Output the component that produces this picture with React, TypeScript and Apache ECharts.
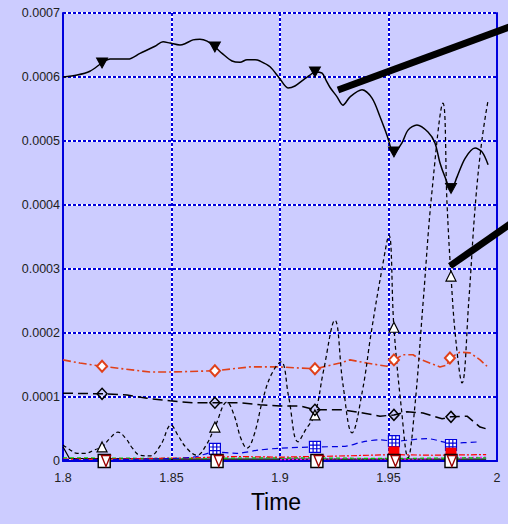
import React, { useEffect, useRef } from "react";
import * as echarts from "echarts";

// ---- data ----
const xTicks = [1.8, 1.85, 1.9, 1.95, 2];

// solid black (inverted triangles)
const tA = [1.8, 1.8065, 1.8124, 1.818, 1.8217, 1.83, 1.8355, 1.8424, 1.8461, 1.8493, 1.8539, 1.8562, 1.8599, 1.8631, 1.8664, 1.87, 1.8733, 1.8779, 1.8816, 1.8848, 1.8885, 1.8908, 1.8954, 1.9, 1.9037, 1.9069, 1.9101, 1.9138, 1.9161, 1.9194, 1.9212, 1.923, 1.9263, 1.929, 1.9323, 1.9378, 1.9424, 1.9461, 1.9493, 1.9525, 1.9562, 1.959, 1.9631, 1.9682, 1.9714, 1.9737, 1.976, 1.9788, 1.9816, 1.9853, 1.9899, 1.9931, 1.9959];
const vA = [0.0006, 0.000603, 0.000609, 0.000622, 0.000628, 0.000628, 0.000637, 0.000648, 0.000655, 0.000653, 0.00065, 0.000652, 0.000658, 0.000659, 0.000656, 0.000647, 0.000637, 0.000625, 0.000623, 0.000627, 0.000627, 0.000625, 0.000616, 0.000597, 0.000583, 0.000586, 0.000594, 0.000603, 0.000608, 0.000606, 0.000595, 0.000584, 0.000569, 0.000556, 0.000569, 0.00058, 0.000567, 0.000538, 0.000509, 0.000481, 0.000497, 0.000517, 0.000525, 0.000514, 0.000497, 0.000466, 0.000444, 0.000423, 0.000444, 0.000473, 0.000489, 0.000483, 0.000463];
const tAMark = [1.818, 1.87, 1.9161, 1.9525, 1.9788];
const vAMark = [0.000622, 0.000647, 0.000608, 0.000483, 0.000426];

// dashed black oscillation (open triangles)
const tB = [1.8, 1.803, 1.8065, 1.81, 1.815, 1.818, 1.8215, 1.8253, 1.829, 1.832, 1.8355, 1.84, 1.845, 1.8498, 1.853, 1.857, 1.8617, 1.866, 1.87, 1.8756, 1.879, 1.882, 1.8848, 1.888, 1.892, 1.896, 1.9005, 1.904, 1.9083, 1.912, 1.916, 1.92, 1.9253, 1.929, 1.9332, 1.938, 1.942, 1.947, 1.9502, 1.9525, 1.956, 1.959, 1.962, 1.966, 1.97, 1.9751, 1.977, 1.9788, 1.981, 1.9839, 1.987, 1.99, 1.993, 1.9959];
const vB = [0.000025, 0.000018, 0.000012, 0.000012, 0.000018, 0.000022, 0.000035, 0.000045, 0.000035, 0.00002, 0.000009, 0.000008, 0.000025, 0.000056, 0.00004, 0.00002, 0.000009, 0.000025, 0.000053, 0.000092, 0.00007, 0.000035, 0.00002, 0.00004, 0.000095, 0.000135, 0.000155, 0.0001, 0.00003, 0.00005, 0.000072, 0.00014, 0.00022, 0.00012, 0.000044, 0.00011, 0.0002, 0.0003, 0.000353, 0.000209, 0.00008, 0.000005, 0.00008, 0.00025, 0.00042, 0.000559, 0.0004, 0.000289, 0.00019, 0.000122, 0.00025, 0.0004, 0.0005, 0.000564];
const tBMark = [1.818, 1.87, 1.9161, 1.9525, 1.9788];
const vBMark = [0.000022, 0.000053, 0.000072, 0.000209, 0.000289];

// orange dash-dot (diamonds)
const tC = [1.8, 1.8078, 1.818, 1.8401, 1.8493, 1.87, 1.8862, 1.9, 1.9161, 1.9276, 1.9323, 1.9401, 1.9493, 1.9525, 1.9567, 1.9613, 1.9645, 1.9737, 1.977, 1.9783, 1.9829, 1.9876, 1.9922, 1.9954];
const vC = [0.000158, 0.000153, 0.000148, 0.000139, 0.000139, 0.000141, 0.000147, 0.000147, 0.000144, 0.000153, 0.000158, 0.000153, 0.000148, 0.000158, 0.000166, 0.000166, 0.000159, 0.000147, 0.00015, 0.000161, 0.00017, 0.000169, 0.000158, 0.000148];
const tCMark = [1.818, 1.87, 1.9161, 1.9525, 1.9783];
const vCMark = [0.000148, 0.000141, 0.000144, 0.000158, 0.000161];

// black long dash (diamonds)
const tD = [1.8, 1.818, 1.8295, 1.8387, 1.8493, 1.8599, 1.87, 1.8816, 1.8908, 1.9, 1.9092, 1.9161, 1.9217, 1.929, 1.9382, 1.9461, 1.9525, 1.9585, 1.9659, 1.9747, 1.9788, 1.9862, 1.9922, 1.9954];
const vD = [0.000106, 0.000105, 0.000103, 0.000098, 0.000094, 0.000091, 0.000091, 0.000091, 0.000088, 0.000086, 0.000086, 0.00008, 0.00008, 0.00008, 0.000075, 0.00007, 0.000072, 0.000077, 0.000075, 0.000066, 0.000069, 0.00007, 0.000053, 0.00005];
const tDMark = [1.818, 1.87, 1.9161, 1.9525, 1.9788];
const vDMark = [0.000105, 0.000091, 0.00008, 0.000072, 0.000069];

// blue dashed (grid squares)
const tE = [1.8, 1.84, 1.86, 1.87, 1.88, 1.89, 1.9, 1.9161, 1.93, 1.9382, 1.9461, 1.9525, 1.9677, 1.9788, 1.9922];
const vE = [0.000002, 0.000003, 0.000006, 0.000014, 0.000012, 0.000017, 0.00002, 0.000022, 0.000023, 0.00003, 0.000033, 0.000031, 0.000035, 0.000028, 0.00003];
const tEMark = [1.87, 1.9161, 1.9525, 1.9788];
const vEMark = [0.000019, 0.000022, 0.000031, 0.000025];

// red dash-dot (filled squares)
const tF = [1.8, 1.82, 1.86, 1.88, 1.9, 1.93, 1.9525, 1.97, 1.995];
const vF = [0.000003, 0.000003, 0.000005, 0.000007, 0.000006, 0.000008, 0.00001, 0.000009, 0.00001];
const tFMark = [1.9525, 1.9788];
const vFMark = [0.000015, 0.000013];

// green dashed
const tG = [1.8, 1.85, 1.9, 1.95, 1.995];
const vG = [0.000005, 0.000004, 0.000005, 0.000004, 0.000005];

// magenta dotted
const tH = [1.9, 1.93, 1.96, 1.995];
const vH = [0.000002, 0.000004, 0.000003, 0.000006];

// black solid near zero
const tK = [1.8, 1.803, 1.85, 1.9, 1.95, 1.995];
const vK = [0.000022, 0.000004, 0.000003, 0.000003, 0.000003, 0.000003];

// bottom markers: white squares and dark red inverted triangles
const tSq = [1.819, 1.871, 1.917, 1.9525, 1.9788];
const vSq = [0, 0, 0, 0, 0];
const tTr = [1.8198, 1.8718, 1.9178, 1.9532, 1.9792];
const vTr = [0, 0, 0, 0, 0];

const pairs = (t: number[], v: number[]) => t.map((x, i) => [x, v[i]]);

const BLUE = "#0000dd";
const FONT = "'Liberation Sans', Arial, sans-serif";
const gridPath =
  "path://M0,0L12,0L12,12L0,12Z M4,0L4,12 M8,0L8,12 M0,4L12,4 M0,8L12,8";

export default function App() {
  const ref = useRef<HTMLDivElement>(null);
  useEffect(() => {
    if (!ref.current) return;
    const chart = echarts.init(ref.current, undefined, { renderer: "svg" });
    const line = (
      name: string,
      t: number[],
      v: number[],
      color: string,
      width: number,
      type: any,
      smooth: number | boolean,
      z = 2
    ) => ({
      name,
      type: "line",
      data: pairs(t, v),
      showSymbol: false,
      smooth,
      z,
      lineStyle: { color, width, type },
      silent: true,
    });
    const marks = (
      name: string,
      t: number[],
      v: number[],
      symbol: string,
      size: any,
      fill: string,
      stroke: string,
      bw: number,
      z: number,
      rotate = 0
    ) => ({
      name,
      type: "scatter",
      data: pairs(t, v),
      symbol,
      symbolSize: size,
      symbolRotate: rotate,
      z,
      itemStyle: { color: fill, borderColor: stroke, borderWidth: bw, opacity: 1 },
      silent: true,
    });
    chart.setOption({
      animation: false,
      backgroundColor: "#ccccff",
      textStyle: { fontFamily: FONT },
      grid: { left: 63, right: 11, top: 13, bottom: 63 },
      xAxis: [
        {
          type: "value",
          min: 1.8,
          max: 2,
          interval: 0.05,
          axisLine: { show: true, onZero: false, lineStyle: { color: BLUE, width: 2 } },
          axisTick: { show: false },
          axisLabel: {
            color: "#222",
            fontSize: 12.5,
            margin: 10,
            fontFamily: FONT,
            formatter: (val: number) => {
              const m = xTicks.find((x) => Math.abs(x - val) < 1e-9);
              return m === undefined ? "" : String(m);
            },
          },
          splitLine: {
            show: true,
            showMinLine: false,
            showMaxLine: false,
            lineStyle: { color: "#ffffff", width: 2 },
          },
        },
        {
          type: "value",
          min: 1.8,
          max: 2,
          interval: 0.05,
          position: "bottom",
          axisLine: { show: false },
          axisTick: { show: false },
          axisLabel: { show: false },
          splitLine: {
            show: true,
            showMinLine: false,
            showMaxLine: false,
            lineStyle: { color: BLUE, width: 2, type: [3, 2] },
          },
        },
      ],
      yAxis: [
        {
          type: "value",
          min: 0,
          max: 0.0007,
          interval: 0.0001,
          axisLine: { show: true, onZero: false, lineStyle: { color: BLUE, width: 2 } },
          axisTick: { show: false },
          axisLabel: { color: "#222", fontSize: 12.5, margin: 3, fontFamily: FONT },
          splitLine: {
            show: true,
            showMinLine: false,
            lineStyle: { color: "#ffffff", width: 2 },
          },
        },
        {
          type: "value",
          min: 0,
          max: 0.0007,
          interval: 0.0001,
          position: "left",
          axisLine: { show: false },
          axisTick: { show: false },
          axisLabel: { show: false },
          splitLine: {
            show: true,
            showMinLine: false,
            lineStyle: { color: BLUE, width: 2, type: [3, 2] },
          },
        },
        {
          type: "value",
          min: 0,
          max: 0.0007,
          interval: 0.0001,
          position: "right",
          axisLine: { show: true, onZero: false, lineStyle: { color: BLUE, width: 2 } },
          axisTick: { show: false },
          axisLabel: { show: false },
          splitLine: { show: false },
        },
      ],
      series: [
        line("near0", tK, vK, "#000000", 1.2, "solid", false),
        line("magenta", tH, vH, "#ff00ff", 1.2, [2, 2], false),
        line("green", tG, vG, "#00cc00", 1.2, [4, 3], false),
        line("red", tF, vF, "#ff0000", 1.2, [6, 2, 2, 2], false),
        line("blue", tE, vE, BLUE, 1.2, [6, 4], 0.3),
        line("blackDash", tD, vD, "#000000", 1.5, [10, 5], false),
        line("orange", tC, vC, "#e0401a", 1.6, [8, 3, 2, 3], false),
        line("osc", tB, vB, "#000000", 1.25, [4, 3], 0.4),
        line("top", tA, vA, "#000000", 1.5, "solid", 0.3),
        marks("oscMark", tBMark, vBMark, "triangle", [10, 10], "#ffffff", "#000000", 1.2, 5),
        marks("topMark", tAMark, vAMark, "triangle", [11, 10], "#000000", "#000000", 1, 5, 180),
        marks("orangeMark", tCMark, vCMark, "diamond", [10, 11], "#ffffff", "#e0401a", 2, 5),
        marks("dMark", tDMark, vDMark, "diamond", [10, 11], "rgba(0,0,0,0)", "#000000", 1.5, 5),
        marks("blueMark", tEMark, vEMark, gridPath, [11, 11], "#ffffff", BLUE, 1.2, 6),
        marks("redMark", tFMark, vFMark, "rect", [11, 10], "#ff0000", "#ff0000", 0, 6),
        marks("sqMark", tSq, vSq, "rect", [12, 13], "#ffffff", "#000000", 1.5, 7),
        marks("trMark", tTr, vTr, "triangle", [9, 11], "#ffffff", "#990000", 1.5, 8, 180),
      ],
      graphic: [
        {
          type: "line",
          z: 100,
          shape: { x1: 338, y1: 90, x2: 520, y2: 23 },
          style: { stroke: "#000000", lineWidth: 7 },
        },
        {
          type: "line",
          z: 100,
          shape: { x1: 450, y1: 266, x2: 520, y2: 217 },
          style: { stroke: "#000000", lineWidth: 7 },
        },
        {
          type: "text",
          x: 276,
          y: 502,
          z: 100,
          style: {
            text: "Time",
            fontSize: 23,
            fontFamily: FONT,
            fill: "#000000",
            align: "center",
            verticalAlign: "middle",
          },
        },
      ],
    });
    return () => chart.dispose();
  }, []);
  return (
    <div
      ref={ref}
      style={{ position: "absolute", left: 0, top: 0, width: 508, height: 524 }}
    />
  );
}
